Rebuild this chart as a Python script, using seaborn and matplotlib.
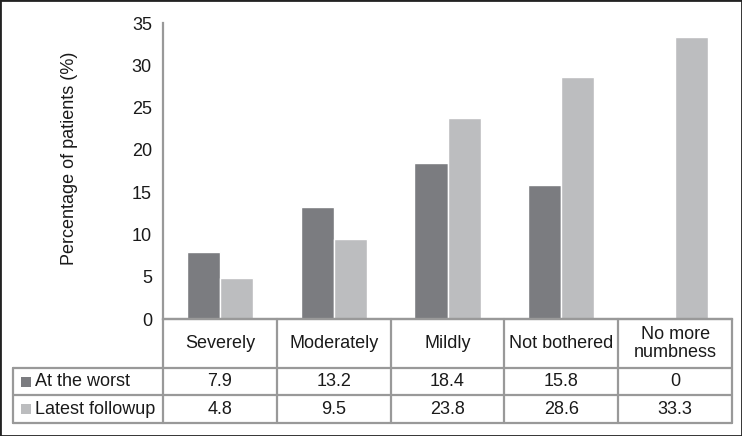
import pandas as pd
import matplotlib
matplotlib.use('Agg')
import matplotlib.pyplot as plt
from matplotlib.patches import Rectangle
import seaborn as sns

categories = ['Severely', 'Moderately', 'Mildly', 'Not bothered', 'No more\nnumbness']
series = ['At the worst', 'Latest followup']
at_worst = [7.9, 13.2, 18.4, 15.8, 0]
latest = [4.8, 9.5, 23.8, 28.6, 33.3]
yticks = [0, 5, 10, 15, 20, 25, 30, 35]

sns.set_style('white')
plt.rcParams['font.family'] = ['Liberation Sans', 'DejaVu Sans']

df = pd.DataFrame({'Category': categories * 2,
                   'Series': [series[0]] * len(categories) + [series[1]] * len(categories),
                   'Value': at_worst + latest})

colors = ['#7b7c80', '#bcbdbf']
line_c = '#999999'
txt_c = '#1a1a1a'
fs = 13

fig = plt.figure(figsize=(7.42, 4.36), dpi=100)
ax = fig.add_axes([163 / 742, 117 / 436, 569 / 742, 296 / 436])
sns.barplot(data=df, x='Category', y='Value', hue='Series', palette=colors,
            width=0.58, saturation=1, legend=False, ax=ax)

ax.set_xlim(-0.5, 4.5)
ax.set_ylim(0, 35)
ax.set_yticks(yticks)
ax.set_xticks([])
ax.set_xlabel('')
ax.set_ylabel('Percentage of patients (%)', fontsize=fs, color=txt_c)
ax.yaxis.set_label_coords(-0.15, 0.544)
ax.tick_params(axis='y', length=0, pad=8, labelsize=fs, labelcolor=txt_c)
for s in ['top', 'right']:
    ax.spines[s].set_visible(False)
for s in ['left', 'bottom']:
    ax.spines[s].set_color(line_c)
    ax.spines[s].set_linewidth(1.6)

# data table under the bars
tr = ax.get_xaxis_transform()
px = 1 / 113.8
x_left = -0.5 - 150 * px
y_head = -49 / 296
y_r1 = -76 / 296
y_r2 = -104 / 296
kw = dict(transform=tr, clip_on=False, color=line_c, lw=1.6)
ax.plot([-0.5, 4.5], [0, 0], **kw)
for yy in [y_head, y_r1, y_r2]:
    ax.plot([x_left, 4.5], [yy, yy], **kw)
ax.plot([-0.5, -0.5], [0, y_r2], **kw)
for i in range(1, len(categories) + 1):
    ax.plot([i - 0.5, i - 0.5], [0, y_r2], **kw)
ax.plot([x_left, x_left], [y_head, y_r2], **kw)

for i, c in enumerate(categories):
    ax.text(i, y_head / 2, c, transform=tr, ha='center', va='center',
            fontsize=fs, color=txt_c, linespacing=1.05)
    ax.text(i, (y_head + y_r1) / 2, f'{at_worst[i]:g}', transform=tr,
            ha='center', va='center', fontsize=fs, color=txt_c)
    ax.text(i, (y_r1 + y_r2) / 2, f'{latest[i]:g}', transform=tr,
            ha='center', va='center', fontsize=fs, color=txt_c)

for name, col, y0, y1 in [(series[0], colors[0], y_head, y_r1), (series[1], colors[1], y_r1, y_r2)]:
    yc = (y0 + y1) / 2
    ax.add_patch(Rectangle((x_left + 8 * px, yc - 5 / 296), 10 * px, 10 / 296,
                           transform=tr, clip_on=False, color=col, lw=0))
    ax.text(x_left + 22 * px, yc, name, transform=tr, ha='left', va='center',
            fontsize=fs, color=txt_c)

fig.patches.append(Rectangle((0, 0), 1, 1, transform=fig.transFigure, fill=False,
                             edgecolor='#222222', lw=2))

fig.savefig('out.png', dpi=100)
